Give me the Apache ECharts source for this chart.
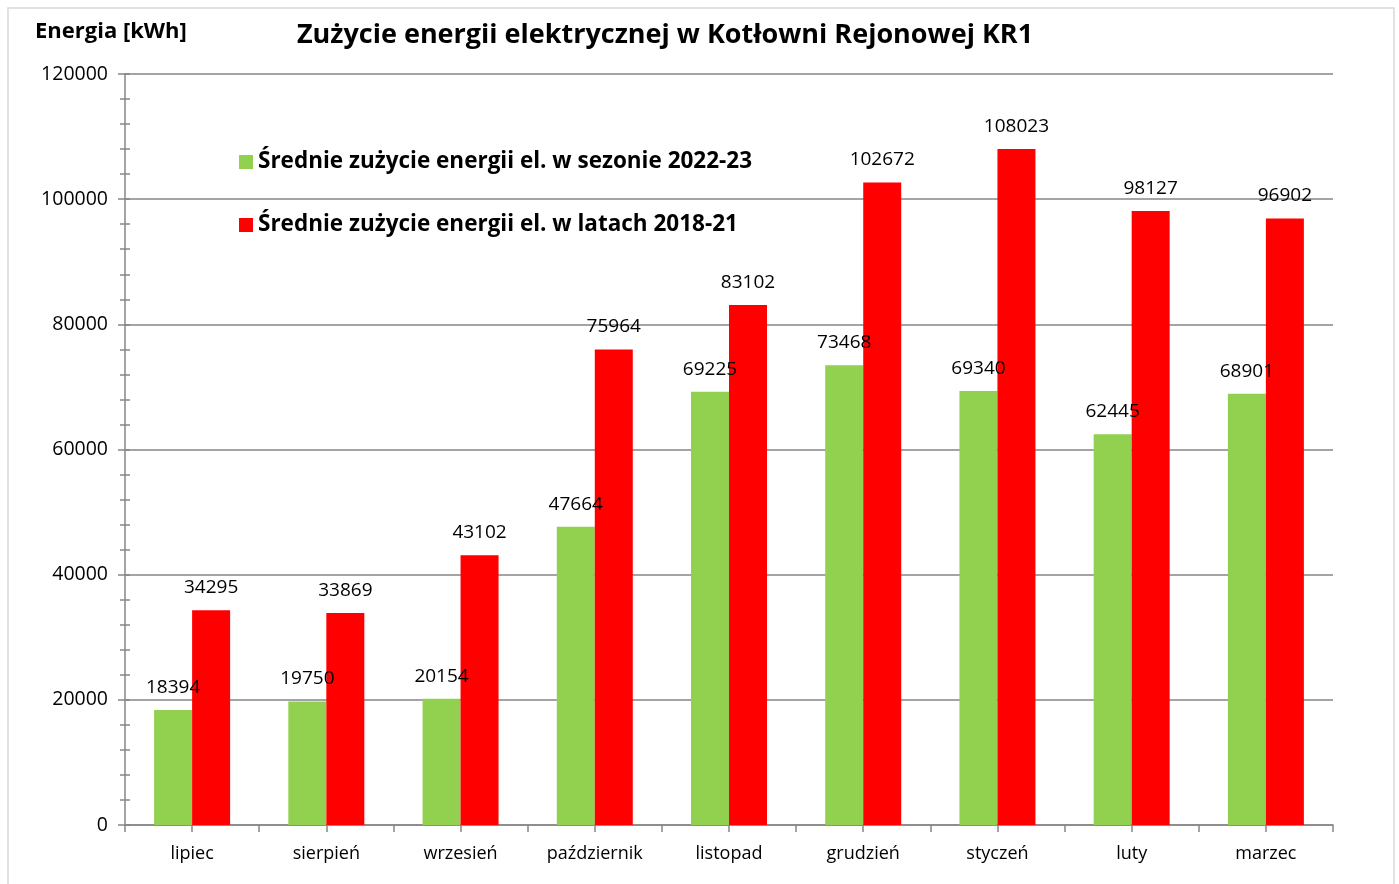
<!DOCTYPE html>
<html lang="pl">
<head>
    <meta charset="UTF-8">
    <title>Zużycie energii elektrycznej KR1</title>
    <script type="text/javascript" src="https://cdn.jsdelivr.net/npm/echarts@6/dist/echarts.min.js"></script>
    <style>
        html, body { margin: 0; padding: 0; background: #fff; }
        #charts { width: 1399px; height: 884px; }
    </style>
</head>
<body>
<div id="charts"></div>
<script>
    // dane z wykresu
    var miesiace = ['lipiec', 'sierpień', 'wrzesień', 'październik', 'listopad', 'grudzień', 'styczeń', 'luty', 'marzec']
    var sezon2022 = [18394, 19750, 20154, 47664, 69225, 73468, 69340, 62445, 68901]
    var lata2018 = [34295, 33869, 43102, 75964, 83102, 102672, 108023, 98127, 96902]
    var nazwy = ['Średnie zużycie energii el. w sezonie 2022-23', 'Średnie zużycie energii el. w latach 2018-21']

    var szary = '#868686'
    var font = '"Open Sans", "Liberation Sans", sans-serif'

    // osobna oś tylko na kreski (granice + środki kategorii)
    var polowki = []
    for (var i = 0; i < miesiace.length * 2; i++) polowki.push(String(i))

    var chart = echarts.init(document.getElementById('charts'), null, {renderer: 'canvas'})
    chart.setOption({
        animation: false,
        textStyle: {fontFamily: font},
        title: {
            text: 'Zużycie energii elektrycznej w Kotłowni Rejonowej KR1',
            left: 660, top: 17, textAlign: 'center',
            textStyle: {fontSize: 27, fontWeight: 'bold', color: '#000', fontFamily: font}
        },
        graphic: [
            {type: 'rect', shape: {x: 8, y: 8, width: 1386, height: 900},
             style: {fill: null, stroke: '#d9d9d9', lineWidth: 1.5}, silent: true},
            {type: 'text', left: 35, top: 21,
             style: {text: 'Energia [kWh]', font: 'bold 22px ' + font, fill: '#000'}}
        ],
        legend: {
            orient: 'vertical', left: 234, top: 144,
            itemWidth: 14, itemHeight: 14, itemGap: 37, icon: 'rect',
            textStyle: {fontSize: 22.5, fontWeight: 'bold', color: '#000', fontFamily: font, lineHeight: 26},
            data: nazwy
        },
        grid: {left: 125, right: 66, top: 74, bottom: 59, containLabel: false},
        xAxis: [
            {
                type: 'category', data: miesiace, position: 'bottom',
                axisLine: {lineStyle: {color: szary, width: 1.5}},
                axisTick: {show: false},
                axisLabel: {fontSize: 18, color: '#000', margin: 20, fontFamily: font}
            },
            {
                type: 'category', data: polowki, position: 'bottom',
                axisLine: {show: false},
                axisTick: {show: true, length: 7, lineStyle: {color: szary, width: 1.5}},
                axisLabel: {show: false}
            }
        ],
        yAxis: [
            {
                type: 'value', min: 0, max: 120000, interval: 20000,
                axisLine: {show: true, lineStyle: {color: szary, width: 1.5}},
                axisTick: {show: true, length: 7, lineStyle: {color: szary, width: 1.5}},
                minorTick: {show: true, splitNumber: 5, length: 5, lineStyle: {color: szary, width: 1.5}},
                splitLine: {show: true, lineStyle: {color: szary, width: 1.5}},
                axisLabel: {fontSize: 19.5, color: '#000', margin: 17, fontFamily: font,
                    formatter: function (v) { return String(v) }}
            },
            {
                type: 'value', min: 0, max: 120000, interval: 4000, position: 'left',
                axisLine: {show: false},
                axisTick: {show: true, inside: true, length: 5, lineStyle: {color: szary, width: 1.5}},
                splitLine: {show: false},
                axisLabel: {show: false}
            }
        ],
        series: [
            {
                name: nazwy[0], type: 'bar', data: sezon2022,
                barWidth: 38, barGap: '0%',
                itemStyle: {color: '#92d050'},
                label: {show: true, position: 'top', distance: 13, fontSize: 19, color: '#000', fontFamily: font,
                    formatter: function (p) { return String(p.value) }}
            },
            {
                name: nazwy[1], type: 'bar', data: lata2018,
                barWidth: 38, barGap: '0%',
                itemStyle: {color: '#ff0000'},
                label: {show: true, position: 'top', distance: 13, fontSize: 19, color: '#000', fontFamily: font,
                    formatter: function (p) { return String(p.value) }}
            }
        ]
    })
</script>
</body>
</html>
